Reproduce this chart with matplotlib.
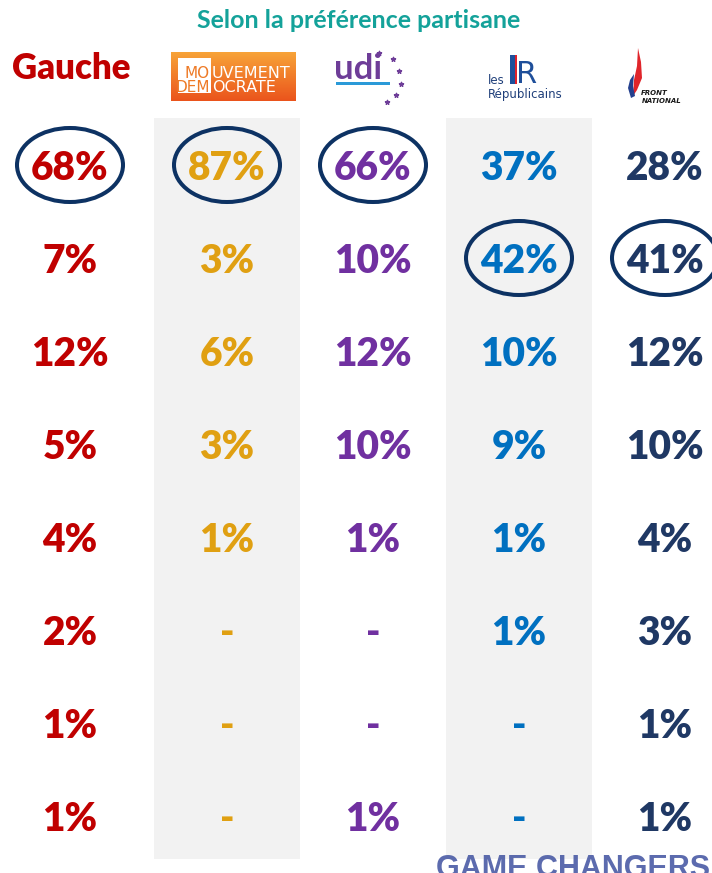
import numpy as np
import matplotlib.pyplot as plt
from matplotlib.patches import Ellipse, Rectangle, Polygon

# data: one list per party column, None = "-"
parties = ["Gauche", "MoDem", "UDI", "Les Républicains", "Front National"]
gauche = [68, 7, 12, 5, 4, 2, 1, 1]
modem = [87, 3, 6, 3, 1, None, None, None]
udi = [66, 10, 12, 10, 1, None, None, 1]
lr = [37, 42, 10, 9, 1, 1, None, None]
fn = [28, 41, 12, 10, 4, 3, 1, 1]
columns = [gauche, modem, udi, lr, fn]
colors = ["#C00000", "#E0A012", "#7030A0", "#0070C0", "#1F3864"]

title = "Selon la préférence partisane"
footer = "GAME CHANGERS"

# layout in pixels
W, H = 712, 873
col_x = [70, 227, 373, 519, 665]
row_y0, row_step = 165, 93
shaded = [1, 3]
font = "Lato"

fig = plt.figure(figsize=(W / 100, H / 100), dpi=100)
ax = fig.add_axes([0, 0, 1, 1])
ax.set_xlim(0, W)
ax.set_ylim(H, 0)
ax.axis("off")

for c in shaded:
    ax.add_patch(Rectangle((col_x[c] - 73, 118), 146, 741,
                           facecolor="#F2F2F2", edgecolor="none", zorder=0))

for i, (vals, col) in enumerate(zip(columns, colors)):
    best = int(np.argmax([v if v is not None else -1 for v in vals]))
    for j, v in enumerate(vals):
        y = row_y0 + j * row_step
        label = "-" if v is None else f"{v}%"
        ax.text(col_x[i], y + 15, label, ha="center", va="baseline",
                fontsize=28, fontweight="heavy", color=col, family=font, zorder=3)
        if j == best:
            ax.add_patch(Ellipse((col_x[i], y), 106, 74, fill=False,
                                 edgecolor="#0D3263", lw=2.9, zorder=4))

ax.text(359, 28, title, ha="center", va="baseline", fontsize=18,
        fontweight="bold", color="#14A29A", family=font)
ax.text(71, 79, parties[0], ha="center", va="baseline", fontsize=25,
        fontweight="heavy", color=colors[0], family=font)

# MoDem logo
grad = np.linspace(0, 1, 60)[:, None, None]
top, bot = np.array([0.97, 0.64, 0.22]), np.array([0.92, 0.33, 0.11])
ax.imshow(top + (bot - top) * grad, extent=[171, 296, 101, 52],
          aspect="auto", zorder=2)
ax.add_patch(Rectangle((178, 58), 33, 35, facecolor="white",
                       edgecolor="none", zorder=3))
for txt1, txt2, yy in [("MO", "UVEMENT", 78), ("DEM", "OCRATE", 92)]:
    ax.text(210, yy, txt1, ha="right", va="baseline", fontsize=11,
            color="#EE7A26", family="DejaVu Sans Condensed", zorder=4)
    ax.text(212, yy, txt2, ha="left", va="baseline", fontsize=11.5,
            color="white", family="DejaVu Sans Condensed", zorder=4)

# UDI logo
ax.text(334, 79, "udi", ha="left", va="baseline", fontsize=25,
        fontweight="bold", color="#6E3D98", family=font, zorder=3)
ax.add_patch(Rectangle((336, 82), 54, 2.5, facecolor="#2A9AD8",
                       edgecolor="none", zorder=3))
star_x = [379, 393, 399, 401, 396, 387]
star_y = [53, 59, 71, 84, 95, 102]
ax.scatter(star_x, star_y, marker="*", s=10, color="#6E3D98", zorder=3)

# LR logo
ax.text(488, 84, "les", ha="left", va="baseline", fontsize=8.5,
        color="#1F3F7A", family="DejaVu Sans Condensed", zorder=3)
ax.add_patch(Rectangle((510, 55), 4.5, 29, facecolor="#1F4F9A",
                       edgecolor="none", zorder=3))
ax.add_patch(Rectangle((515, 55), 2, 29, facecolor="#E0202A",
                       edgecolor="none", zorder=3))
ax.text(516, 83, "R", ha="left", va="baseline", fontsize=22,
        color="#1F4F9A", family="DejaVu Sans Condensed", zorder=3)
ax.text(488, 98, "Républicains", ha="left", va="baseline", fontsize=8.5,
        color="#1F3F7A", family="DejaVu Sans Condensed", zorder=3)

# FN logo
red_flame = [(633, 96), (634, 80), (637, 66), (638, 48), (641, 62),
             (642, 78), (637, 90)]
blue_flame = [(631, 98), (628, 88), (630, 80), (634, 74), (633, 86),
              (635, 96)]
ax.add_patch(Polygon(red_flame, closed=True, facecolor="#E0252B",
                     edgecolor="none", zorder=3))
ax.add_patch(Polygon(blue_flame, closed=True, facecolor="#24408E",
                     edgecolor="none", zorder=3))
ax.text(641, 95, "FRONT", ha="left", va="baseline", fontsize=5,
        fontweight="bold", style="italic", color="#1a1a1a", zorder=3)
ax.text(642, 103, "NATIONAL", ha="left", va="baseline", fontsize=5,
        fontweight="bold", style="italic", color="#1a1a1a", zorder=3)

ax.text(710, 877, footer, ha="right", va="baseline", fontsize=22,
        fontweight="bold", color="#4A5BA5", family="Liberation Sans",
        alpha=0.9, zorder=1)

fig.savefig("out.png", dpi=100)
